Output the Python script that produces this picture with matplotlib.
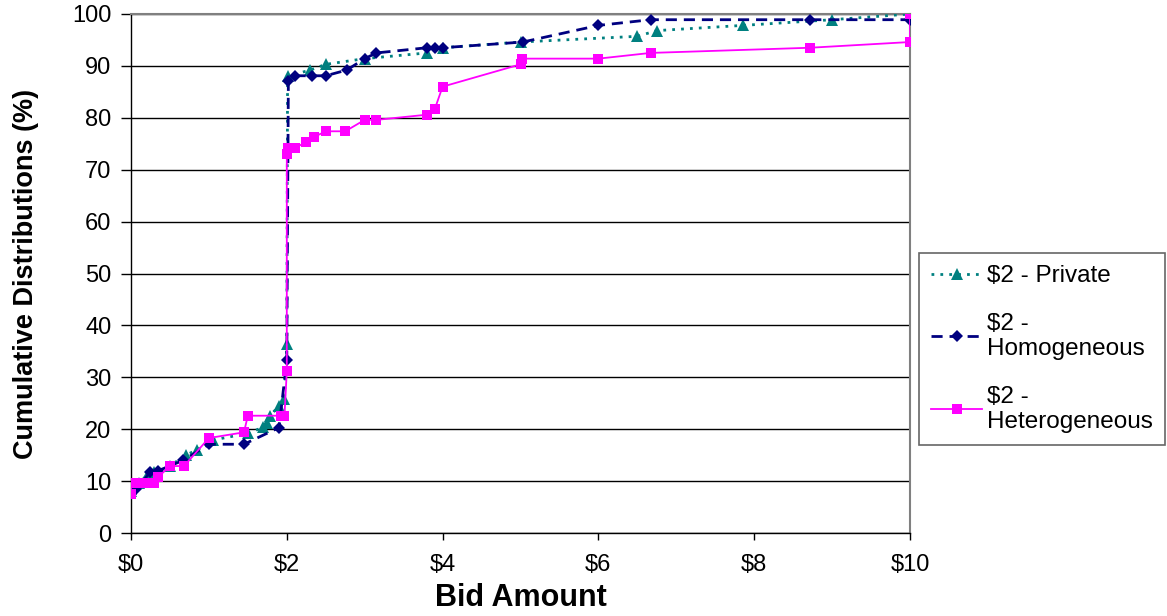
import matplotlib
matplotlib.use("Agg")
import matplotlib.pyplot as plt
from matplotlib.ticker import MultipleLocator, FuncFormatter

# Cumulative bid distributions for the $2 treatments
private_x = [0.00, 0.10, 0.20, 0.30, 0.50, 0.70, 0.85, 1.05, 1.50, 1.70, 1.75, 1.78,
             1.90, 1.97, 2.00, 2.01, 2.30, 2.50, 3.00, 3.80, 4.00, 5.00, 6.50, 6.75,
             7.85, 9.00, 10.00]
private_y = [8.0, 9.7, 11.0, 11.8, 12.9, 15.0, 16.0, 17.9, 19.2, 20.4, 21.2, 22.5,
             24.5, 25.8, 36.5, 88.0, 89.2, 90.3, 91.4, 92.5, 93.5, 94.6, 95.7, 96.8,
             97.8, 98.9, 100.0]

homog_x = [0.00, 0.07, 0.25, 0.35, 0.67, 1.00, 1.45, 1.90, 2.00, 2.02, 2.10, 2.32,
           2.50, 2.77, 3.00, 3.15, 3.80, 3.90, 4.00, 5.03, 6.00, 6.67, 8.72, 10.00]
homog_y = [7.6, 8.5, 11.8, 12.0, 14.0, 17.1, 17.1, 20.3, 33.3, 87.1, 88.1, 88.1,
           88.1, 89.2, 91.4, 92.5, 93.5, 93.5, 93.5, 94.6, 97.8, 98.9, 98.9, 98.9]

hetero_x = [0.00, 0.00, 0.10, 0.20, 0.30, 0.35, 0.50, 0.68, 1.00, 1.45, 1.50, 1.92,
            1.97, 2.00, 2.00, 2.02, 2.10, 2.25, 2.35, 2.50, 2.75, 3.00, 3.15, 3.80,
            3.90, 4.00, 5.00, 5.02, 6.00, 6.67, 8.72, 10.00, 10.00]
hetero_y = [7.5, 9.7, 9.7, 9.7, 9.7, 10.8, 12.9, 12.9, 18.3, 19.4, 22.6, 22.6,
            22.6, 31.2, 73.1, 74.2, 74.2, 75.3, 76.3, 77.4, 77.4, 79.6, 79.6, 80.6,
            81.7, 86.0, 90.3, 91.4, 91.4, 92.5, 93.5, 94.6, 100.0]

series_labels = ["\\$2 - Private", "\\$2 -\nHomogeneous", "\\$2 -\nHeterogeneous"]
x_label = "Bid Amount"
y_label = "Cumulative Distributions (%)"

plt.rcParams["font.family"] = ["Liberation Sans", "DejaVu Sans"]

fig = plt.figure(figsize=(11.67, 6.16), dpi=100)
ax = fig.add_axes([131 / 1167, 1 - 533 / 616, (910 - 131) / 1167, (533 - 14) / 616])

ax.plot(private_x, private_y, color="#008080", linestyle=(0, (1, 2.2)), linewidth=2.0,
        marker="^", markersize=8, markeredgewidth=0, label=series_labels[0], zorder=3)
ax.plot(homog_x, homog_y, color="#000080", linestyle=(0, (4, 2.5)), linewidth=2.0,
        marker="D", markersize=6, markeredgewidth=0, label=series_labels[1], zorder=4)
ax.plot(hetero_x, hetero_y, color="#FF00FF", linestyle="-", linewidth=1.3,
        marker="s", markersize=7.5, markeredgewidth=0, label=series_labels[2], zorder=5)

ax.set_xlim(0, 10)
ax.set_ylim(0, 100)
ax.xaxis.set_major_locator(MultipleLocator(2))
ax.yaxis.set_major_locator(MultipleLocator(10))
ax.xaxis.set_major_formatter(FuncFormatter(lambda v, p: "\\$%d" % round(v)))

ax.yaxis.grid(True, color="black", linewidth=1.0)
ax.set_axisbelow(True)

for side in ("left", "bottom"):
    ax.spines[side].set_color("black")
    ax.spines[side].set_linewidth(1.0)
for side in ("top", "right"):
    ax.spines[side].set_color("#808080")
    ax.spines[side].set_linewidth(1.5)

ax.tick_params(axis="y", direction="out", length=7, width=1, pad=7, labelsize=17)
ax.tick_params(axis="x", direction="out", length=5, width=1, pad=10, labelsize=17)

ax.set_xlabel(x_label, fontsize=22, fontweight="bold", labelpad=5)
ax.set_ylabel(y_label, fontsize=19.5, fontweight="bold", labelpad=24)

leg = ax.legend(loc="upper left", bbox_to_anchor=(919 / 1167, 1 - 253 / 616),
                bbox_transform=fig.transFigure, fontsize=17.5, frameon=True,
                fancybox=False, edgecolor="#404040", borderpad=0.5,
                labelspacing=1.05, handlelength=2.1, handletextpad=0.2,
                borderaxespad=0, markerscale=1.0)
leg.get_frame().set_linewidth(1.2)

fig.savefig("out.png", dpi=100)
